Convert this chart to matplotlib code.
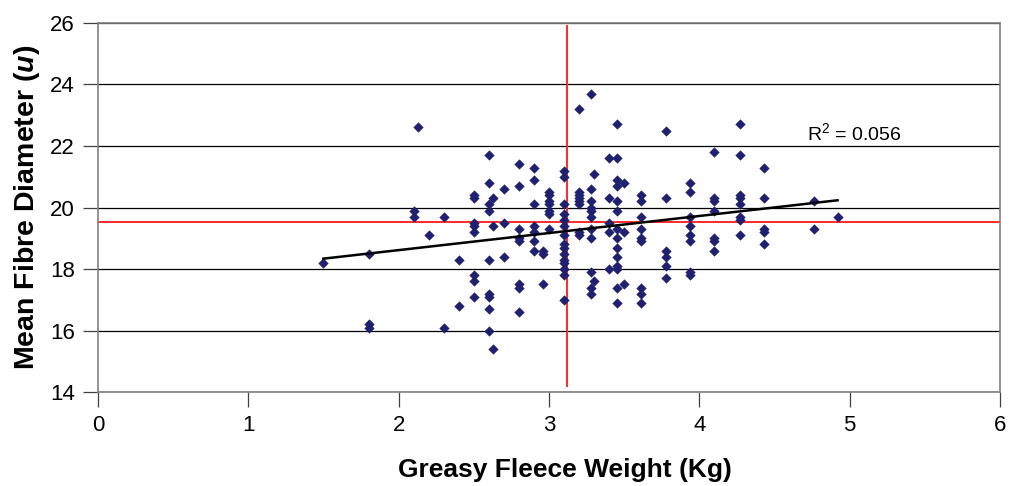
import numpy as np
import matplotlib
matplotlib.use("Agg")
import matplotlib.pyplot as plt

plt.rcParams['font.family'] = ['Liberation Sans', 'DejaVu Sans']
plt.rcParams['mathtext.fontset'] = 'custom'
plt.rcParams['mathtext.rm'] = 'Liberation Sans'
plt.rcParams['mathtext.it'] = 'Liberation Sans:italic'
plt.rcParams['mathtext.bf'] = 'Liberation Sans:bold'
plt.rcParams['mathtext.bfit'] = 'Liberation Sans:bold:italic'

# ---- data (x = greasy fleece weight, y = mean fibre diameter) ----
fleece_groups = [1.50, 1.80, 2.10, 2.13, 2.20, 2.30, 2.40, 2.50, 2.60, 2.63, 2.70,
                 2.80, 2.90, 2.96, 3.00, 3.10, 3.20, 3.28, 3.30, 3.40, 3.45, 3.50,
                 3.61, 3.78, 3.94, 4.10, 4.27, 4.43, 4.76, 4.92]
diameter_groups = [
    [18.2],
    [18.5, 16.2, 16.1],
    [19.9, 19.7],
    [22.6],
    [19.1],
    [19.7, 16.1],
    [18.3, 16.8],
    [20.4, 20.3, 19.5, 19.4, 19.2, 17.8, 17.6, 17.1],
    [21.7, 20.8, 20.1, 19.9, 18.3, 17.2, 17.1, 16.7, 16.0],
    [20.3, 19.4, 15.4],
    [20.6, 19.5, 18.4],
    [21.4, 20.7, 19.3, 19.0, 18.9, 17.5, 17.4, 16.6],
    [21.3, 20.9, 20.1, 19.4, 19.2, 18.9, 18.6],
    [18.6, 18.5, 17.5],
    [20.5, 20.4, 20.2, 20.1, 19.9, 19.8, 19.3],
    [21.2, 21.0, 20.1, 19.8, 19.6, 19.4, 19.1, 18.8, 18.7, 18.5, 18.3, 18.2, 18.0, 17.8, 17.0],
    [23.2, 20.5, 20.4, 20.3, 20.2, 20.1, 19.2, 19.1],
    [23.7, 20.6, 20.2, 20.0, 19.9, 19.7, 19.3, 19.0, 17.9, 17.4, 17.2],
    [21.1, 17.6],
    [21.6, 20.3, 19.5, 19.2, 18.0],
    [22.7, 21.6, 20.9, 20.7, 20.2, 19.9, 19.3, 19.0, 18.7, 18.4, 18.1, 18.0, 17.4, 16.9],
    [20.8, 19.2, 17.5],
    [20.4, 20.2, 19.7, 19.3, 19.0, 18.9, 17.4, 17.2, 16.9],
    [22.5, 20.3, 18.6, 18.4, 18.1, 17.7],
    [20.8, 20.5, 19.7, 19.4, 19.1, 18.9, 17.9, 17.8],
    [21.8, 20.3, 20.2, 19.9, 19.0, 18.9, 18.6],
    [22.7, 21.7, 20.4, 20.3, 20.1, 19.7, 19.6, 19.1],
    [21.3, 20.3, 19.3, 19.2, 18.8],
    [20.2, 19.3],
    [19.7],
]
mean_weight = 3.12
mean_diameter = 19.52
vline_span = [14.2, 25.9]
r2_label = "R$^2$ = 0.056"
x_ticks = [0, 1, 2, 3, 4, 5, 6]
y_ticks = [14, 16, 18, 20, 22, 24, 26]

x = np.concatenate([[g] * len(v) for g, v in zip(fleece_groups, diameter_groups)])
y = np.concatenate(diameter_groups)

fig = plt.figure(figsize=(10.10, 4.86), dpi=100)
ax = fig.add_axes([0.097, 0.193, 0.893, 0.760])

ax.set_xlim(0, 6)
ax.set_ylim(14, 26)
ax.set_xticks(x_ticks)
ax.set_yticks(y_ticks)
ax.yaxis.grid(True, color='black', linewidth=0.9)
ax.set_axisbelow(True)
for s in ax.spines.values():
    s.set_color('#808080')
    s.set_linewidth(1.2)

ax.tick_params(axis='both', direction='out', length=10.5, width=0.9, color='#404040',
               labelsize=16, pad=6)

ax.scatter(x, y, marker='D', s=24, color='#1f206f', edgecolors='#1f206f',
           linewidths=0.3, zorder=3)

# mean lines
ax.plot([0, 6], [mean_diameter, mean_diameter], color='#ff2a2a', linewidth=1.4, zorder=2)
ax.plot([mean_weight, mean_weight], vline_span, color='#ff2a2a', linewidth=1.4, zorder=2)

# linear trendline
coef = np.polyfit(x, y, 1)
xt = np.array([x.min(), x.max()])
ax.plot(xt, np.polyval(coef, xt), color='black', linewidth=1.8, zorder=4)

ax.text(4.72, 22.42, r2_label, fontsize=14, ha='left', va='center')

ax.set_xlabel('Greasy Fleece Weight (Kg)', fontsize=19, fontweight='bold')
ax.xaxis.set_label_coords(0.518, -0.178)
ax.xaxis.label.set_va('top')
ax.set_ylabel(r'Mean Fibre Diameter ($\mathbfit{u}$)', fontsize=20.5, fontweight='bold', labelpad=6)

fig.savefig('out.png', dpi=100)
